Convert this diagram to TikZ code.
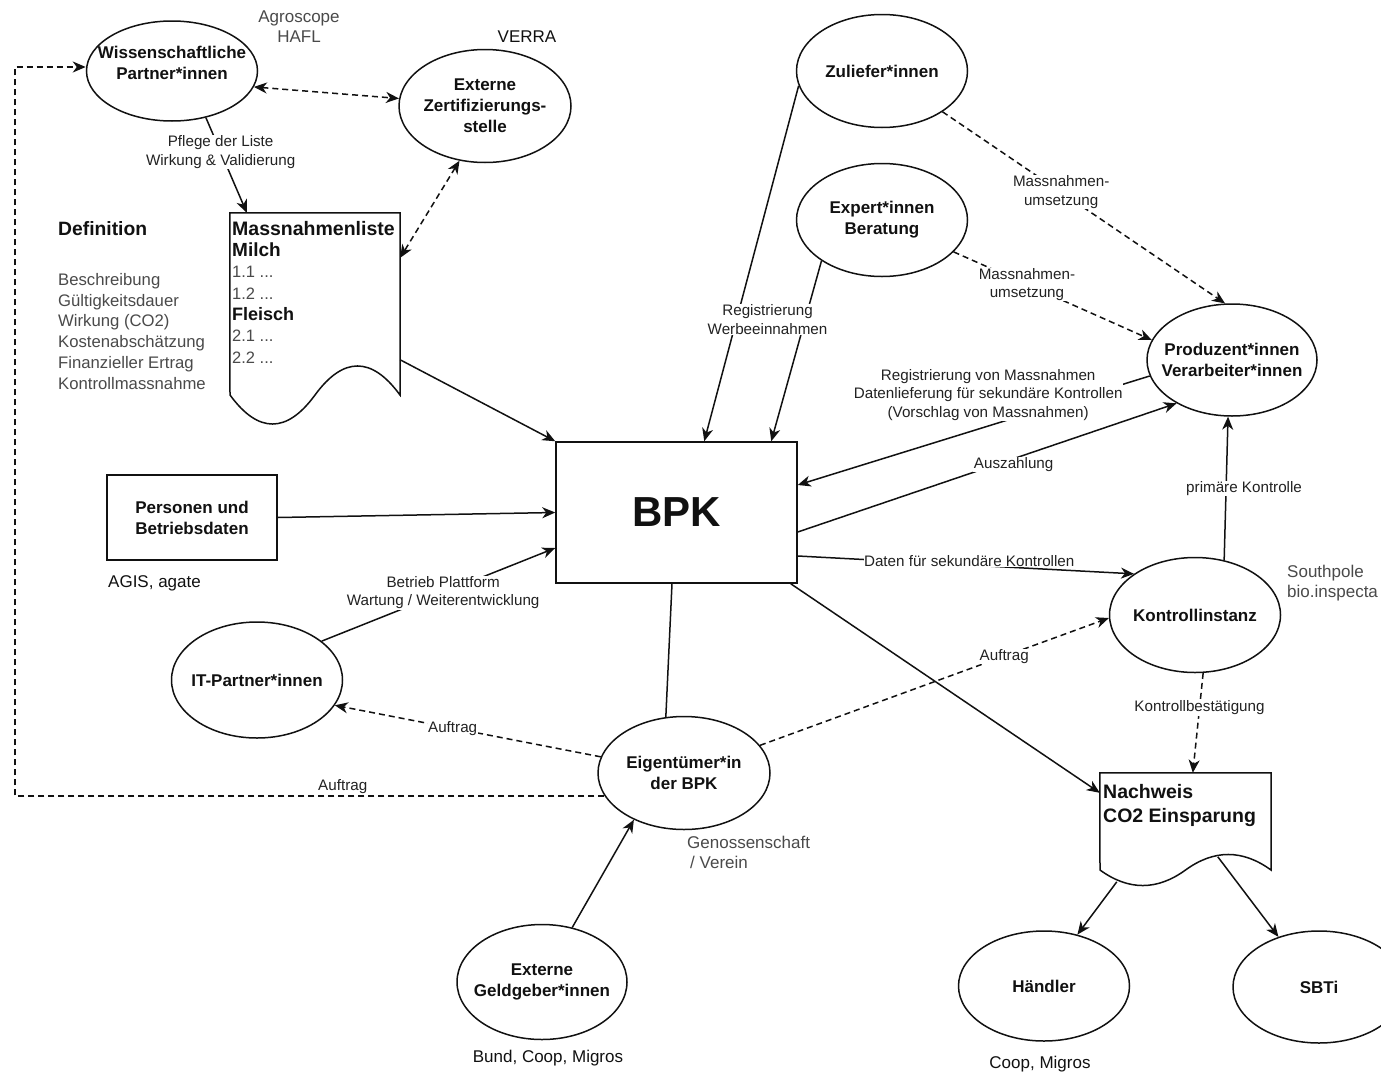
\documentclass[tikz,border=0pt]{standalone}
\usepackage{fontspec}
\setmainfont{Liberation Sans}
\usetikzlibrary{arrows.meta,calc,shapes.geometric}
\definecolor{annot}{HTML}{4A4A4A}
\definecolor{lbl}{HTML}{222222}
\definecolor{ink}{HTML}{111111}
\begin{document}
\begin{tikzpicture}[x=1pt,y=-1pt,
  ellnode/.style={ellipse, draw=ink, line width=1.5pt, minimum width=171pt, minimum height=113pt, inner sep=0pt},
  etext/.style={font=\fontsize{17}{21}\selectfont\bfseries, text=ink, align=center, inner sep=0pt},
  boxnode/.style={rectangle, draw=ink, line width=1.5pt, inner sep=0pt, align=center, text=ink},
  con/.style={line width=1.5pt, draw=ink, -{Stealth[length=13pt,width=11pt,inset=4pt]}},
  dcon/.style={con, dash pattern=on 6pt off 4pt},
  ddcon/.style={dcon, {Stealth[length=13pt,width=11pt,inset=4pt]}-{Stealth[length=13pt,width=11pt,inset=4pt]}},
  plain/.style={line width=1.5pt, draw=ink},
  lab/.style={font=\fontsize{15.2}{18.5}\selectfont, text=lbl, align=center, fill=white, inner sep=0.5pt},
  ann/.style={font=\fontsize{17}{20}\selectfont, text=annot, align=center, inner sep=0pt},
  annb/.style={font=\fontsize{17}{20}\selectfont, text=ink, align=center, inner sep=0pt}
]
\useasboundingbox (0,0) rectangle (1381,1071);
\fill[white] (0,0) rectangle (1381,1071);
\clip (0,0) rectangle (1381,1071);

% ---------- ellipses ----------
\node[ellnode, minimum height=100pt, label={[etext, yshift=8pt]center:Wissenschaftliche\\Partner*innen}] (W) at (172,71) {};
\node[ellnode, minimum width=172pt, label={[etext]center:Externe\\Zertifizierungs-\\stelle}] (Ext) at (485,106) {};
\node[ellnode, label={[etext]center:Zuliefer*innen}] (Zul) at (882,71) {};
\node[ellnode, label={[etext]center:Expert*innen\\Beratung}] (Exp) at (882,220) {};
\node[ellnode, minimum width=170pt, minimum height=112pt, label={[etext]center:Produzent*innen\\Verarbeiter*innen}] (Prod) at (1232,360) {};
\node[ellnode, minimum height=115pt, label={[etext]center:Kontrollinstanz}] (Kon) at (1195,615) {};
\node[ellnode, minimum width=172pt, label={[etext]center:Eigentümer*in\\der BPK}] (Eig) at (684,773) {};
\node[ellnode, minimum height=116pt, label={[etext]center:IT-Partner*innen}] (IT) at (257,680) {};
\node[ellnode, minimum width=170pt, minimum height=115pt, label={[etext]center:Externe\\Geldgeber*innen}] (Geld) at (542,982) {};
\node[ellnode, minimum height=110pt, label={[etext]center:Händler}] (Hand) at (1044,986) {};
\node[ellnode, minimum width=172pt, minimum height=112pt, label={[etext]center:SBTi}] (SBTi) at (1319,987) {};

% ---------- rectangles ----------
\node[boxnode, minimum width=241pt, minimum height=141pt, font=\fontsize{42}{50}\selectfont\bfseries] (BPK) at (676.5,512.5) {BPK};
\node[boxnode, minimum width=170pt, minimum height=85pt, font=\fontsize{17}{21}\selectfont\bfseries] (Pers) at (192,517.5) {Personen und\\Betriebsdaten};

% ---------- documents ----------
\node[minimum width=170pt, minimum height=214pt, inner sep=0pt] (ML) at (315,320) {};
\draw[plain] (ML.north west) -- (ML.north east) -- (400,395)
  .. controls (371.7,356.3) and (343.3,356.3) .. (315,395)
  .. controls (286.7,433.7) and (258.3,433.7) .. (230,395) -- cycle;
\node[anchor=north west, inner sep=0pt, align=left, text=ink, font=\fontsize{16.5}{21.3}\selectfont] (MLtext) at (232,221)
  {{\fontsize{19.5}{21.3}\selectfont\bfseries Massnahmenliste}\\
   {\fontsize{19}{21.3}\selectfont\bfseries Milch}\\
   {\color{annot}1.1 ...}\\
   {\color{annot}1.2 ...}\\
   {\fontsize{18}{21.3}\selectfont\bfseries Fleisch}\\
   {\color{annot}2.1 ...}\\
   {\color{annot}2.2 ...}};

\node[minimum width=171pt, minimum height=114pt, inner sep=0pt] (Nach) at (1185.5,830) {};
\draw[plain] (Nach.north west) -- (Nach.north east) -- (1271,870)
  .. controls (1242.5,849.3) and (1214,849.3) .. (1185.5,870)
  .. controls (1157,890.7) and (1128.5,890.7) .. (1100,870) -- cycle;
\node[anchor=north west, inner sep=0pt, align=left, text=ink, font=\fontsize{19.5}{24}\selectfont\bfseries] (NachText) at (1103,784)
  {Nachweis\\CO2 Einsparung};

% ---------- free texts ----------
\node[ann] (agro) at (299,27) {Agroscope\\HAFL};
\node[annb] (verra) at (527,37) {VERRA};
\node[anchor=west, inner sep=0pt, text=ink, font=\fontsize{19.3}{23}\selectfont\bfseries] (defhead) at (58,229) {Definition};
\node[anchor=north west, inner sep=0pt, align=left, text=annot, font=\fontsize{16.7}{20.8}\selectfont] (deflist) at (58,273)
  {Beschreibung\\Gültigkeitsdauer\\Wirkung (CO2)\\Kostenabschätzung\\Finanzieller Ertrag\\Kontrollmassnahme};
\node[annb, anchor=west] (agis) at (108,583) {AGIS, agate};
\node[ann, anchor=west, align=left] (geno) at (687,852) {Genossenschaft\\\hspace{3pt}/ Verein};
\node[annb] (bund) at (548,1058) {Bund, Coop, Migros};
\node[ann, anchor=west, align=left] (south) at (1287,583) {Southpole\\bio.inspecta};
\node[annb] (coop) at (1040,1064) {Coop, Migros};

% ---------- connectors ----------
\coordinate (LL) at (15,67);
\draw[dcon] (Eig.196) -- node[lab, fill=none, pos=0.444, above=1pt]{Auftrag} (Eig.196 -| LL) -- (LL) -- (W.west |- LL);
\draw[ddcon] (W.-11) -- (Ext.175);
\draw[con] (W.-54) -- node[lab, pos=0.36]{Pflege der Liste\\Wirkung \& Validierung} ($(ML.north west)+(17,0)$);
\draw[ddcon] (Ext.245) -- ($(ML.north east)+(0,45)$);
\draw[con] ($(ML.north east)+(0,147)$) -- (BPK.north west);
\draw[con] (Pers.east) -- (BPK.west);
\draw[con] (IT.31) -- node[lab, pos=0.52]{Betrieb Plattform\\Wartung / Weiterentwicklung} ($(BPK.west)+(0,35.5)$);
\draw[dcon] (Eig.169) -- node[lab, pos=0.557]{Auftrag} (IT.-18);
\draw[plain] ($(BPK.south)+(-4.5,0)$) -- (Eig.108);
\draw[dcon] (Eig.20) -- node[lab, pos=0.7]{Auftrag} (Kon.182);
\draw[con] (Geld.61) -- (Eig.223);
\draw[con] (Exp.214) -- ($(BPK.north west)+(216,0)$);
\draw[con] (Zul.190) -- node[lab, pos=0.658, xshift=31pt]{Registrierung\\Werbeeinnahmen} ($(BPK.north west)+(149,0)$);
\draw[dcon] (Zul.-34) -- node[lab, pos=0.42]{Massnahmen-\\umsetzung} (Prod.97);
\draw[dcon] (Exp.-24) -- node[lab, pos=0.37]{Massnahmen-\\umsetzung} (Prod.166);
\draw[con] (Prod.191) -- node[lab, pos=0.459, yshift=31pt]{Registrierung von Massnahmen\\Datenlieferung für sekundäre Kontrollen\\(Vorschlag von Massnahmen)} ($(BPK.east)+(0,-27.5)$);
\draw[con] ($(BPK.east)+(0,19.5)$) -- node[lab, pos=0.57, yshift=-6pt]{Auszahlung} (Prod.218);
\draw[con] ($(BPK.east)+(0,43.5)$) -- node[lab, pos=0.51, yshift=4pt]{Daten für sekundäre Kontrollen} (Kon.146);
\draw[con] (Kon.62) -- node[lab, pos=0.5, xshift=18pt]{primäre Kontrolle} (Prod.-94);
\draw[dcon] (Kon.-82) -- node[lab, pos=0.35]{Kontrollbestätigung} ($(Nach.north west)+(93,0)$);
\draw[con] ($(BPK.south east)+(-7,0)$) -- ($(Nach.north west)+(0,20)$);
\draw[con] ($(Nach.north west)+(17,109)$) -- (Hand.57);
\draw[con] ($(Nach.north west)+(118,84)$) -- (SBTi.129);
\end{tikzpicture}
\end{document}
